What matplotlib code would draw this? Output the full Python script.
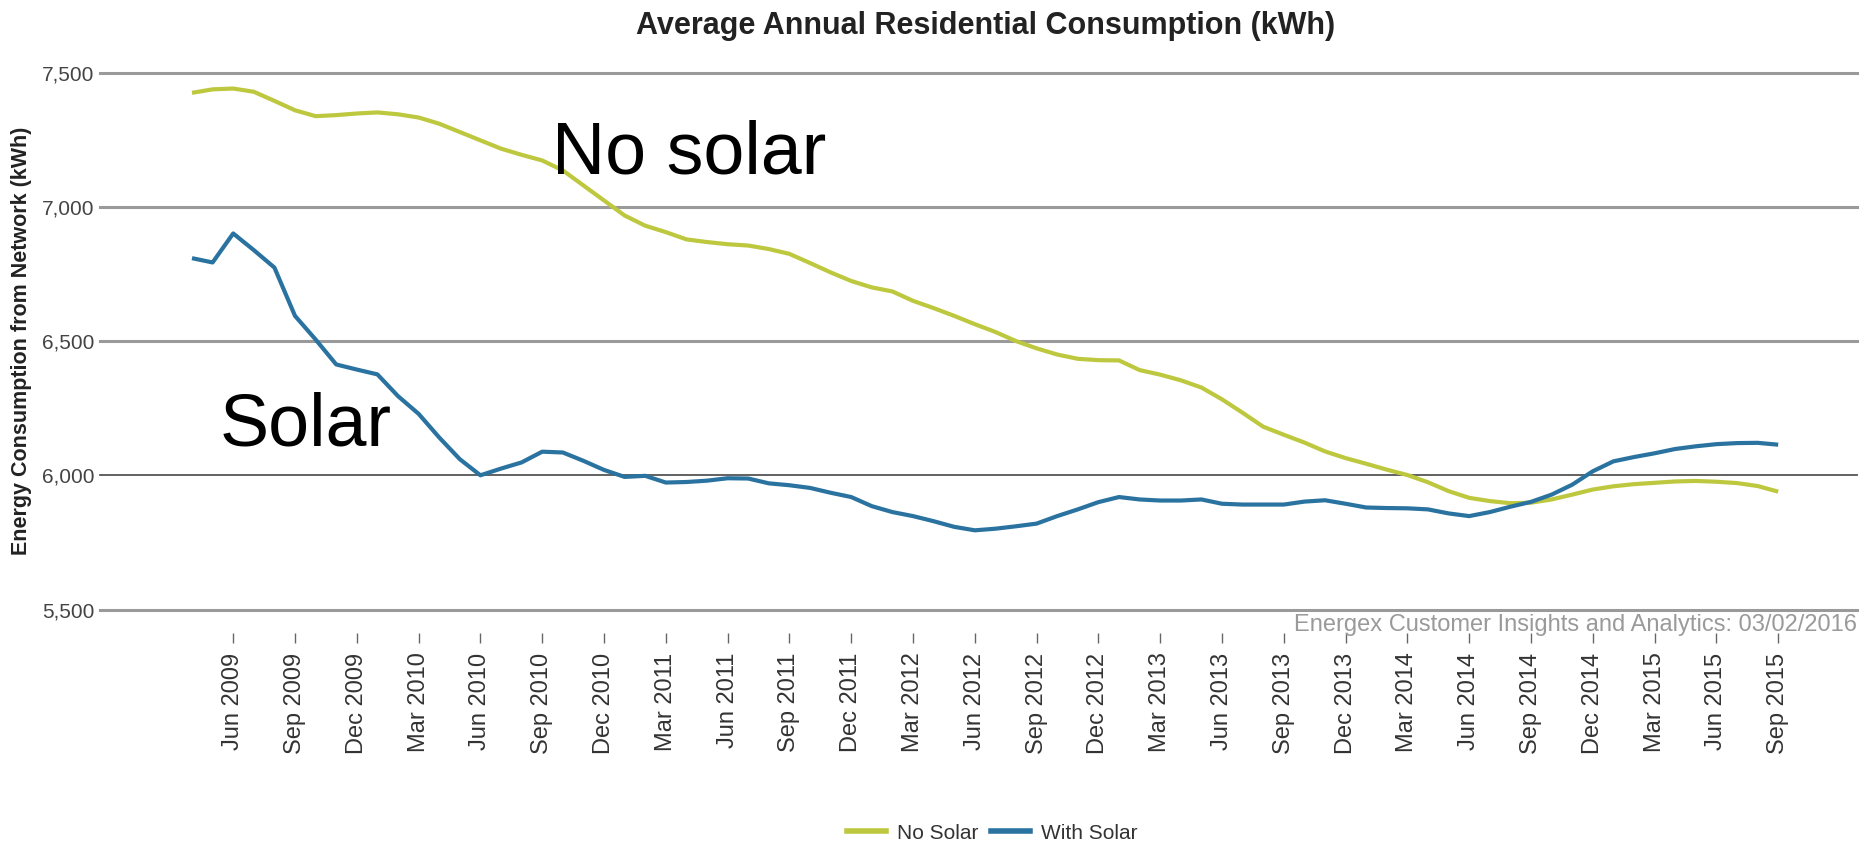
import numpy as np
import pandas as pd
import matplotlib
matplotlib.use('Agg')
import matplotlib.pyplot as plt
from matplotlib.lines import Line2D
from matplotlib.ticker import FuncFormatter

plt.rcParams['font.family'] = ['Liberation Sans', 'DejaVu Sans']

# monthly series, Apr 2009 .. Sep 2015
months = pd.period_range('2009-04', '2015-09', freq='M')

no_solar = [7425, 7438, 7441, 7429, 7395, 7360, 7338, 7342, 7348, 7352,
            7345, 7333, 7310, 7279, 7248, 7217, 7194, 7173, 7136, 7080,
            7024, 6968, 6930, 6906, 6879, 6869, 6861, 6856, 6843, 6825,
            6791, 6756, 6724, 6700, 6685, 6650, 6623, 6594, 6563, 6534,
            6500, 6473, 6450, 6434, 6429, 6428, 6392, 6375, 6354, 6327,
            6283, 6233, 6181, 6151, 6122, 6089, 6064, 6043, 6021, 6001,
            5974, 5941, 5916, 5904, 5896, 5898, 5910, 5928, 5947, 5959,
            5967, 5972, 5977, 5979, 5976, 5971, 5960, 5939]

with_solar = [6809, 6793, 6901, 6839, 6774, 6594, 6506, 6413, 6394, 6376,
              6295, 6229, 6141, 6060, 6000, 6025, 6048, 6088, 6085, 6054,
              6020, 5994, 5998, 5973, 5975, 5980, 5989, 5988, 5970, 5963,
              5953, 5935, 5919, 5885, 5863, 5848, 5829, 5808, 5795, 5801,
              5810, 5820, 5848, 5873, 5900, 5919, 5910, 5906, 5906, 5910,
              5894, 5891, 5891, 5891, 5902, 5907, 5894, 5880, 5878, 5877,
              5873, 5858, 5848, 5863, 5883, 5901, 5928, 5965, 6015, 6052,
              6068, 6082, 6098, 6108, 6116, 6120, 6121, 6114]

y_ticks = [5500, 6000, 6500, 7000, 7500]

yellow = '#bdc83f'
blue = '#2a73a0'

W, H = 1874, 847
fig = plt.figure(figsize=(W / 100, H / 100), dpi=100)
ax = fig.add_axes([100 / W, 1 - 609.5 / H, (1857 - 100) / W, (609.5 - 72.7) / H])

x = np.arange(len(months))
ax.plot(x, no_solar, color=yellow, lw=3, solid_capstyle='butt', zorder=3)
ax.plot(x, with_solar, color=blue, lw=3, solid_capstyle='butt', zorder=3)

ax.set_xlim(-(192 - 100) / 20.6, (1857 - 192) / 20.6)
ax.set_ylim(5500, 7500)

for s in ax.spines.values():
    s.set_visible(False)
ax.spines['bottom'].set_position(('outward', 17))

# y axis / gridlines
ax.set_yticks(y_ticks)
ax.yaxis.set_major_formatter(FuncFormatter(lambda v, p: f'{int(v):,}'))
ax.tick_params(axis='y', length=0, pad=4, labelsize=15, labelcolor='#444444')
ax.yaxis.grid(True, color='#9a9a9a', lw=2.2)
for gl, v in zip(ax.get_ygridlines(), y_ticks):
    gl.set_clip_on(False)
    if v == 6000:
        gl.set_color('#555555')
        gl.set_linewidth(1.3)

# x axis: quarterly ticks from Jun 2009
tick_idx = [i for i, m in enumerate(months) if m.month in (3, 6, 9, 12)]
ax.set_xticks(tick_idx)
ax.set_xticklabels([months[i].strftime('%b %Y') for i in tick_idx], rotation=90)
ax.tick_params(axis='x', direction='out', length=7, width=1, color='#666666',
               pad=7, labelsize=17, labelcolor='#333333')

fig.text(986 / W, 1 - 26 / H, 'Average Annual Residential Consumption (kWh)',
         ha='center', va='center', fontsize=22, fontweight='bold', color='#222222')
fig.text(22 / W, 1 - 341 / H, 'Energy Consumption from Network (kWh)', rotation=90,
         ha='center', va='center', fontsize=15.5, fontweight='bold', color='#222222')
fig.text(1857 / W, 1 - 625 / H, 'Energex Customer Insights and Analytics: 03/02/2016',
         ha='right', va='center', fontsize=17, color='#9a9a9a')

fig.text(552 / W, 1 - 173 / H, 'No solar', fontsize=53, va='baseline', color='black')
fig.text(220 / W, 1 - 445 / H, 'Solar', fontsize=53, va='baseline', color='black')

handles = [Line2D([], [], color=yellow, lw=4), Line2D([], [], color=blue, lw=4)]
fig.legend(handles, ['No Solar', 'With Solar'], loc='center',
           bbox_to_anchor=(992 / W, 1 - 833 / H), ncol=2, frameon=False,
           fontsize=15, handlelength=1.9, handletextpad=0.5, columnspacing=0.6,
           labelcolor='#333333')

fig.savefig('out.png', dpi=100)
